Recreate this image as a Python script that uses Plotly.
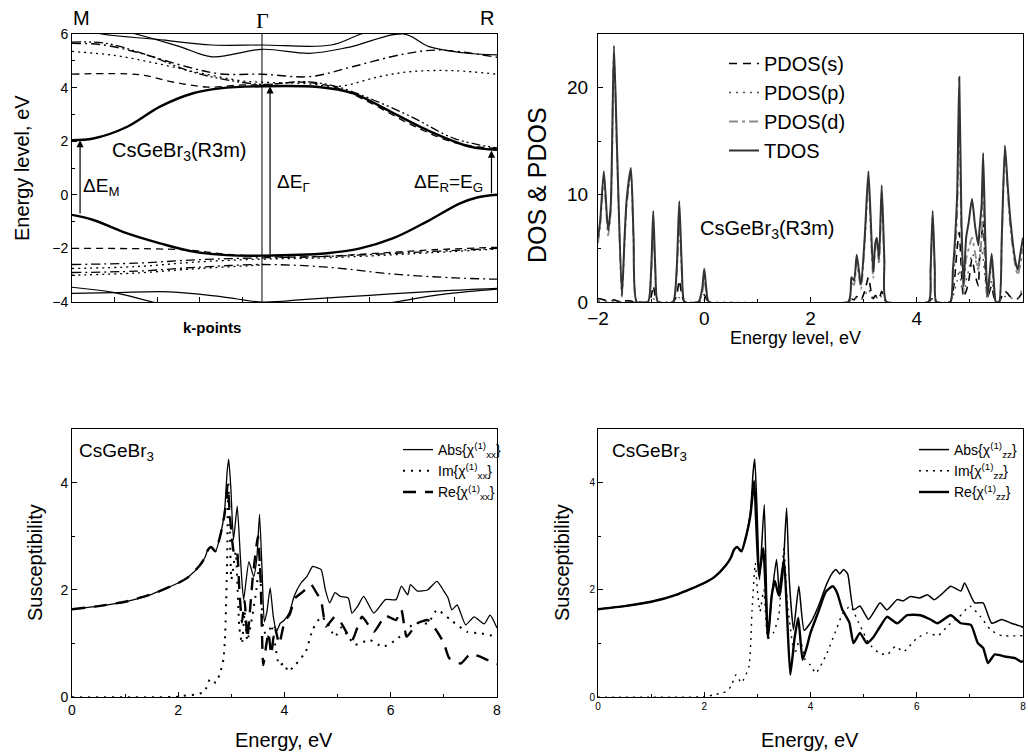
import plotly.graph_objects as go

# ---------------- Band structure (k as fraction of path M-Gamma-R) ----------------
k_gamma = 0.447
k_cb = [0, 0.05, 0.13, 0.207, 0.285, 0.348, 0.447, 0.58, 0.66, 0.756, 0.835, 0.936, 1.0]
e_cb = [2.04, 2.1, 2.54, 3.29, 3.79, 3.97, 4.05, 4.02, 3.79, 3.05, 2.42, 1.8, 1.68]
k_vb = [0, 0.05, 0.13, 0.207, 0.285, 0.364, 0.447, 0.6, 0.678, 0.756, 0.835, 0.913, 0.953, 1.0]
e_vb = [-0.75, -0.94, -1.44, -1.81, -2.12, -2.25, -2.27, -2.18, -2.0, -1.62, -1.0, -0.32, -0.1, 0.0]

k_u1 = [0.0, 0.07, 0.2, 0.33, 0.447, 0.61, 0.68, 0.75]
e_u1 = [6.3, 6.0, 5.8, 5.59, 5.59, 5.59, 6.0, 6.3]
k_u2 = [0.1, 0.15, 0.25, 0.33, 0.447, 0.56, 0.65, 0.78, 0.84, 0.92, 1.0]
e_u2 = [6.2, 6.0, 5.55, 5.15, 5.43, 5.28, 5.5, 6.0, 5.53, 5.3, 5.22]
k_u3 = [0, 0.07, 0.15, 0.27, 0.35, 0.447, 0.56, 0.66, 0.78, 0.86, 1.0]
e_u3 = [5.65, 5.6, 5.33, 4.78, 4.51, 4.5, 4.41, 4.78, 5.25, 5.4, 5.13]
k_u4 = [0, 0.1, 0.2, 0.3, 0.4, 0.447, 0.55, 0.63, 0.72, 0.8, 0.9, 1.0]
e_u4 = [5.35, 5.2, 4.9, 4.55, 4.25, 4.2, 4.15, 4.05, 4.4, 4.6, 4.63, 4.5]
k_u5 = [0, 0.16, 0.24, 0.32, 0.4, 0.447, 0.55, 0.63, 0.7, 0.8, 0.9, 1.0]
e_u5 = [4.5, 4.48, 4.2, 4.02, 4.1, 4.1, 4.2, 3.95, 3.45, 2.6, 1.95, 1.72]
k_u6 = [0, 0.08, 0.18, 0.28, 0.36, 0.447, 0.55, 0.62, 0.7, 0.8, 0.9, 1.0]
e_u6 = [5.7, 5.65, 5.2, 4.6, 4.3, 4.12, 4.22, 4.05, 3.6, 2.9, 2.1, 1.75]

k_l1 = [0, 0.2, 0.29, 0.35, 0.447, 0.55, 0.65, 0.75, 0.85, 1.0]
e_l1 = [-2.0, -2.02, -2.08, -2.2, -2.3, -2.32, -2.25, -2.15, -2.05, -1.96]
k_l2 = [0, 0.15, 0.3, 0.447, 0.6, 0.8, 1.0]
e_l2 = [-2.6, -2.55, -2.42, -2.35, -2.3, -2.15, -2.0]
k_l3 = [0, 0.15, 0.3, 0.447, 0.6, 0.8, 1.0]
e_l3 = [-2.75, -2.68, -2.5, -2.4, -2.35, -2.2, -2.02]
k_l4 = [0, 0.15, 0.3, 0.447, 0.6, 0.75, 0.9, 1.0]
e_l4 = [-2.9, -2.85, -2.7, -2.6, -2.7, -2.95, -3.1, -3.15]
k_l5 = [0, 0.15, 0.3, 0.447]
e_l5 = [-3.0, -2.92, -2.75, -2.62]
k_s1 = [0, 0.1, 0.19, 0.25]
e_s1 = [-3.45, -3.65, -4.0, -4.2]
k_s2 = [0, 0.1, 0.23, 0.35, 0.447, 0.55, 0.7, 0.85, 1.0]
e_s2 = [-3.68, -3.65, -3.62, -3.8, -4.0, -3.9, -3.75, -3.6, -3.49]
k_s3 = [0.65, 0.76, 0.88, 1.0]
e_s3 = [-4.3, -4.0, -3.7, -3.52]

# ---------------- DOS ----------------
x_dos = [-2.00, -1.96, -1.89, -1.81, -1.76, -1.70, -1.64, -1.55, -1.50, -1.46, -1.38, -1.33, -1.27,
         -1.06, -1.00, -0.96, -0.92, -0.87,
         -0.59, -0.52, -0.47, -0.42, -0.37,
         -0.11, -0.04, 0.00, 0.04, 0.09,
         2.71, 2.77, 2.82, 2.87, 2.95, 3.02, 3.09, 3.14, 3.18, 3.22, 3.25, 3.29, 3.34, 3.39, 3.43,
         4.22, 4.26, 4.30, 4.34, 4.37,
         4.63, 4.68, 4.71, 4.76, 4.80, 4.84, 4.88, 4.93, 4.98, 5.04, 5.10, 5.16, 5.18, 5.22, 5.25,
         5.29, 5.33, 5.37, 5.41, 5.45, 5.49,
         5.55, 5.60, 5.66, 5.71, 5.76, 5.85, 5.90, 5.95, 6.00]
tdos = [6.0, 7.5, 12.2, 6.7, 9.0, 23.9, 14.0, 0.6, 6.0, 9.6, 12.5, 6.0, 0.0,
        0.0, 3.0, 8.5, 3.0, 0.0,
        0.0, 3.0, 9.4, 3.0, 0.0,
        0.0, 1.2, 3.1, 1.2, 0.0,
        0.0, 2.3, 2.0, 4.4, 1.6, 6.0, 12.2, 7.0, 2.8, 5.5, 6.0, 4.0, 10.9, 4.0, 0.0,
        0.0, 3.0, 8.5, 3.0, 0.0,
        0.0, 3.0, 5.0, 10.0, 21.0, 8.0, 1.5, 6.0, 7.5, 9.6, 7.0, 5.3, 6.7, 9.0, 13.9,
        6.0, 0.6, 2.5, 4.5, 2.0, 0.0,
        0.0, 6.0, 14.6, 11.0, 7.8, 4.0, 3.0, 4.5, 6.0]
pdos_d = [5.5, 7.0, 11.5, 6.2, 8.5, 23.0, 13.5, 0.5, 5.5, 9.0, 12.0, 5.5, 0.0,
          0.0, 2.5, 7.0, 2.5, 0.0,
          0.0, 2.5, 7.5, 2.5, 0.0,
          0.0, 0.8, 2.3, 0.8, 0.0,
          0.0, 1.8, 1.6, 3.7, 1.2, 5.5, 11.0, 6.0, 2.2, 5.0, 5.5, 3.5, 10.0, 3.5, 0.0,
          0.0, 2.8, 8.0, 2.8, 0.0,
          0.0, 2.0, 3.5, 8.0, 18.0, 6.0, 1.0, 4.0, 5.0, 6.0, 4.5, 3.0, 4.0, 6.0, 10.5,
          4.0, 0.4, 2.0, 3.5, 1.5, 0.0,
          0.0, 5.5, 14.0, 10.5, 7.0, 3.5, 2.5, 3.5, 5.0]
pdos_s = [0.3, 0.3, 0.2, 0.1, 0.1, 0.2, 0.1, 0.0, 0.1, 0.1, 0.1, 0.0, 0.0,
          0.0, 0.5, 1.5, 0.5, 0.0,
          0.0, 0.6, 2.0, 0.6, 0.0,
          0.0, 0.3, 0.7, 0.3, 0.0,
          0.0, 0.3, 0.2, 0.5, 0.2, 1.0, 2.3, 1.0, 0.3, 0.6, 0.5, 0.3, 1.0, 0.4, 0.0,
          0.0, 0.2, 0.5, 0.2, 0.0,
          0.0, 1.0, 2.0, 5.0, 6.5, 3.0, 0.5, 1.0, 2.0, 4.0, 2.5, 1.5, 4.0, 6.0, 7.5,
          3.0, 0.3, 1.0, 1.5, 0.5, 0.0,
          0.0, 0.5, 1.0, 0.8, 0.5, 0.3, 0.3, 0.6, 1.0]
pdos_p = [0.1, 0.1, 0.1, 0.1, 0.1, 0.1, 0.1, 0.0, 0.0, 0.0, 0.0, 0.0, 0.0,
          0.0, 0.1, 0.3, 0.1, 0.0,
          0.0, 0.1, 0.4, 0.1, 0.0,
          0.0, 0.0, 0.2, 0.0, 0.0,
          0.0, 0.2, 0.2, 0.4, 0.2, 0.6, 1.2, 0.6, 0.2, 0.4, 0.4, 0.2, 0.6, 0.2, 0.0,
          0.0, 0.1, 0.3, 0.1, 0.0,
          0.0, 0.5, 1.0, 2.0, 3.0, 1.5, 0.5, 2.0, 3.0, 4.5, 4.0, 3.0, 3.5, 5.0, 4.0,
          2.0, 0.3, 1.0, 2.0, 0.8, 0.0,
          0.0, 0.3, 0.5, 0.5, 0.4, 0.3, 0.3, 0.8, 1.5]

# ---------------- Susceptibility xx ----------------
e_abs_xx = [0, 0.5, 1.0, 1.5, 2.0, 2.2, 2.4, 2.5, 2.56, 2.62, 2.7, 2.8, 2.87, 2.92, 2.95, 2.99, 3.04,
            3.11, 3.17, 3.23, 3.33, 3.42, 3.48, 3.53, 3.58, 3.62, 3.67, 3.73, 3.79, 3.85, 3.92, 3.99,
            4.1, 4.18, 4.31, 4.42, 4.53, 4.6, 4.69, 4.77, 4.85, 4.95, 5.05, 5.2, 5.27, 5.38, 5.49,
            5.68, 5.9, 6.1, 6.2, 6.32, 6.37, 6.5, 6.69, 6.87, 7.0, 7.08, 7.15, 7.25, 7.41, 7.57,
            7.76, 7.87, 8.0]
abs_xx = [1.64, 1.7, 1.78, 1.92, 2.13, 2.25, 2.45, 2.6, 2.75, 2.8, 2.72, 3.05, 3.45, 4.2, 4.44, 3.9, 2.94,
          3.56, 2.6, 1.82, 2.53, 2.25, 2.6, 3.41, 2.3, 1.41, 1.6, 2.04, 1.5, 1.23, 1.38, 1.43,
          1.6, 1.88, 2.13, 2.25, 2.44, 2.42, 2.38, 2.0, 1.76, 1.95, 1.88, 1.85, 1.57, 1.7, 1.88,
          1.57, 1.82, 1.82, 2.07, 1.91, 2.1, 1.98, 2.0, 2.16, 1.98, 1.85, 1.63, 1.72, 1.35, 1.5,
          1.37, 1.53, 1.29]
e_re_xx = [0, 0.5, 1.0, 1.5, 2.0, 2.2, 2.4, 2.5, 2.56, 2.62, 2.7, 2.8, 2.87, 2.93, 2.98, 3.05, 3.1,
           3.15, 3.2, 3.25, 3.3, 3.4, 3.5, 3.55, 3.6, 3.66, 3.7, 3.75, 3.82, 3.9, 4.0, 4.1, 4.2,
           4.35, 4.5, 4.6, 4.69, 4.78, 4.95, 5.07, 5.27, 5.46, 5.68, 5.9, 6.1, 6.2, 6.3, 6.5, 6.7,
           6.85, 7.0, 7.1, 7.32, 7.5, 7.7, 7.9, 8.0]
re_xx = [1.64, 1.7, 1.78, 1.92, 2.13, 2.25, 2.45, 2.6, 2.75, 2.8, 2.72, 3.05, 3.4, 3.94, 3.3, 2.7, 2.75,
         2.0, 1.4, 1.8, 1.1, 2.2, 3.0, 2.2, 0.6, 1.0, 1.2, 0.8, 1.3, 1.0, 1.4, 1.55, 1.85,
         1.97, 2.1, 1.95, 1.8, 1.32, 1.5, 1.38, 1.06, 1.5, 1.22, 1.52, 1.44, 1.63, 1.13, 1.38, 1.44,
         1.26, 1.01, 0.73, 0.63, 0.81, 0.75, 0.66, 0.62]
e_im_xx = [0, 0.5, 1.0, 1.5, 2.0, 2.1, 2.3, 2.49, 2.6, 2.71, 2.8, 2.85, 2.88, 2.92, 2.94, 2.97, 3.0,
           3.08, 3.15, 3.2, 3.25, 3.3, 3.4, 3.47, 3.53, 3.6, 3.68, 3.75, 3.82, 3.9, 3.99, 4.07, 4.2,
           4.4, 4.53, 4.69, 4.8, 4.95, 5.07, 5.15, 5.33, 5.6, 5.85, 6.1, 6.3, 6.44, 6.7, 6.87, 7.13,
           7.44, 7.7, 8.0]
im_xx = [0.0, 0.0, 0.0, 0.0, 0.01, 0.03, 0.05, 0.1, 0.34, 0.27, 0.5, 0.7, 1.1, 2.5, 4.03, 3.2, 2.2,
         2.7, 1.3, 1.0, 1.6, 1.05, 1.55, 2.0, 2.5, 1.3, 1.1, 1.35, 1.0, 0.6, 0.63, 0.48, 0.6,
         0.85, 1.26, 1.5, 1.4, 1.13, 1.3, 1.2, 0.98, 1.07, 0.94, 1.07, 1.25, 1.38, 1.38, 1.63, 1.44,
         1.22, 1.19, 1.13]

# ---------------- Susceptibility zz ----------------
e_abs_zz = [0, 0.5, 1.0, 1.5, 2.0, 2.2, 2.4, 2.5, 2.56, 2.62, 2.7, 2.8, 2.87, 2.92, 2.95, 2.99, 3.04,
            3.08, 3.13, 3.2, 3.27, 3.36, 3.42, 3.48, 3.55, 3.6, 3.68, 3.78, 3.88, 4.02, 4.15, 4.3,
            4.4, 4.48, 4.55, 4.62, 4.7, 4.81, 4.93, 5.09, 5.2, 5.31, 5.44, 5.63, 5.75, 5.88, 6.05,
            6.2, 6.33, 6.5, 6.64, 6.83, 6.9, 7.09, 7.25, 7.41, 7.6, 7.78, 7.97, 8.0]
abs_zz = [1.64, 1.7, 1.78, 1.92, 2.13, 2.25, 2.45, 2.6, 2.75, 2.8, 2.72, 3.05, 3.45, 4.2, 4.44, 3.6, 2.19,
          2.8, 3.59, 1.13, 1.88, 2.57, 1.88, 2.3, 3.53, 2.2, 1.26, 2.07, 1.25, 1.42, 1.7, 2.1,
          2.3, 2.38, 2.3, 2.38, 2.3, 1.63, 1.7, 1.45, 1.6, 1.76, 1.63, 1.82, 1.8, 1.88, 1.85,
          1.91, 1.82, 1.95, 2.07, 1.98, 2.13, 1.76, 1.76, 1.38, 1.45, 1.38, 1.32, 1.3]
e_re_zz = [0, 0.5, 1.0, 1.5, 2.0, 2.2, 2.4, 2.5, 2.56, 2.62, 2.7, 2.8, 2.87, 2.94, 2.98, 3.03, 3.11,
           3.2, 3.27, 3.33, 3.4, 3.5, 3.56, 3.62, 3.7, 3.77, 3.85, 3.92, 4.0, 4.15, 4.29, 4.42, 4.5,
           4.6, 4.73, 4.81, 4.93, 5.06, 5.19, 5.3, 5.44, 5.63, 5.82, 6.07, 6.26, 6.39, 6.64, 6.83,
           7.02, 7.15, 7.25, 7.34, 7.47, 7.66, 7.85, 7.97, 8.0]
re_zz = [1.64, 1.7, 1.78, 1.92, 2.13, 2.25, 2.45, 2.6, 2.75, 2.8, 2.72, 3.05, 3.4, 4.03, 3.2, 2.25, 2.78,
         1.1, 1.9, 2.17, 1.9, 2.57, 1.5, 0.42, 1.1, 1.48, 0.7, 0.9, 1.2, 1.6, 1.97, 2.07, 1.95,
         1.63, 1.4, 1.01, 1.2, 1.01, 1.13, 1.3, 1.5, 1.38, 1.53, 1.53, 1.45, 1.38, 1.53, 1.38,
         1.35, 1.01, 0.92, 0.64, 0.8, 0.76, 0.73, 0.66, 0.68]
e_im_zz = [0, 0.5, 1.0, 1.5, 2.0, 2.2, 2.4, 2.5, 2.6, 2.7, 2.84, 2.9, 2.96, 3.0, 3.05, 3.12, 3.2, 3.3,
           3.4, 3.5, 3.56, 3.62, 3.7, 3.8, 3.9, 4.0, 4.1, 4.3, 4.5, 4.6, 4.75, 4.9, 5.0, 5.1, 5.3,
           5.45, 5.6, 5.75, 6.0, 6.2, 6.4, 6.6, 6.8, 7.0, 7.2, 7.4, 7.6, 8.0]
im_zz = [0.0, 0.0, 0.0, 0.0, 0.01, 0.05, 0.1, 0.2, 0.42, 0.27, 0.57, 1.63, 2.5, 2.0, 1.6, 2.0, 1.1, 1.2,
         1.5, 2.78, 1.8, 1.3, 0.8, 1.1, 0.7, 0.6, 0.45, 0.8, 1.3, 1.55, 1.7, 1.4, 1.2, 1.0, 0.82,
         0.8, 0.95, 0.85, 1.1, 1.2, 1.15, 1.35, 1.5, 1.7, 1.5, 1.25, 1.15, 1.15]

FONT = "Liberation Sans, Arial, sans-serif"
W, H = 1028, 755


def px(x):
    return x / W


def py(y):
    return 1 - y / H


fig = go.Figure()

DASH = "7px,5px"
DOT = "2px,4px"
DASHDOT = "9px,4px,2px,4px"
DASHDOTDOT = "9px,3px,2px,3px,2px,3px"

bands = [
    (k_u1, e_u1, 1.2, "solid"), (k_u2, e_u2, 1.2, "solid"),
    (k_u3, e_u3, 1.4, DASHDOT), (k_u4, e_u4, 1.3, DOT), (k_u5, e_u5, 1.3, DASH), (k_u6, e_u6, 1.3, DASHDOTDOT),
    (k_l1, e_l1, 1.3, DASH), (k_l2, e_l2, 1.3, DASHDOT), (k_l3, e_l3, 1.3, DOT), (k_l4, e_l4, 1.3, DASHDOT),
    (k_l5, e_l5, 1.3, DOT),
    (k_s1, e_s1, 1.2, "solid"), (k_s2, e_s2, 1.2, "solid"), (k_s3, e_s3, 1.2, "solid"),
    (k_cb, e_cb, 2.4, "solid"), (k_vb, e_vb, 2.4, "solid"),
]
for kk, ee, lw, dsh in bands:
    fig.add_trace(go.Scatter(x=kk, y=ee, mode="lines", line=dict(color="black", width=lw, dash=dsh, shape="spline", smoothing=1.0),
                             xaxis="x", yaxis="y", showlegend=False, hoverinfo="skip"))

# DOS traces
fig.add_trace(go.Scatter(x=x_dos, y=pdos_s, name="PDOS(s)", mode="lines", legend="legend",
                         line=dict(color="black", width=1.6, dash="8px,6px", shape="spline", smoothing=0.6), xaxis="x2", yaxis="y2"))
fig.add_trace(go.Scatter(x=x_dos, y=pdos_p, name="PDOS(p)", mode="lines", legend="legend",
                         line=dict(color="#555555", width=1.4, dash="2px,5px", shape="spline", smoothing=0.6), xaxis="x2", yaxis="y2"))
fig.add_trace(go.Scatter(x=x_dos, y=pdos_d, name="PDOS(d)", mode="lines", legend="legend",
                         line=dict(color="#8a8a8a", width=1.8, dash="9px,4px,3px,4px", shape="spline", smoothing=0.6), xaxis="x2", yaxis="y2"))
fig.add_trace(go.Scatter(x=x_dos, y=tdos, name="TDOS", mode="lines", legend="legend",
                         line=dict(color="#333333", width=2.0, shape="spline", smoothing=0.6), xaxis="x2", yaxis="y2"))

# xx susceptibility
fig.add_trace(go.Scatter(x=e_abs_xx, y=abs_xx, name="Abs{χ<sup>(1)</sup><sub>xx</sub>}", mode="lines", legend="legend2",
                         line=dict(color="black", width=1.3, shape="spline", smoothing=0.5), xaxis="x3", yaxis="y3"))
fig.add_trace(go.Scatter(x=e_im_xx, y=im_xx, name="Im{χ<sup>(1)</sup><sub>xx</sub>}", mode="lines", legend="legend2",
                         line=dict(color="black", width=2.0, dash="2px,6px", shape="spline", smoothing=0.5), xaxis="x3", yaxis="y3"))
fig.add_trace(go.Scatter(x=e_re_xx, y=re_xx, name="Re{χ<sup>(1)</sup><sub>xx</sub>}", mode="lines", legend="legend2",
                         line=dict(color="black", width=2.4, dash="13px,9px", shape="spline", smoothing=0.5), xaxis="x3", yaxis="y3"))

# zz susceptibility
fig.add_trace(go.Scatter(x=e_abs_zz, y=abs_zz, name="Abs{χ<sup>(1)</sup><sub>zz</sub>}", mode="lines", legend="legend3",
                         line=dict(color="black", width=1.5, shape="spline", smoothing=0.5), xaxis="x4", yaxis="y4"))
fig.add_trace(go.Scatter(x=e_im_zz, y=im_zz, name="Im{χ<sup>(1)</sup><sub>zz</sub>}", mode="lines", legend="legend3",
                         line=dict(color="black", width=1.4, dash="2px,5px", shape="spline", smoothing=0.5), xaxis="x4", yaxis="y4"))
fig.add_trace(go.Scatter(x=e_re_zz, y=re_zz, name="Re{χ<sup>(1)</sup><sub>zz</sub>}", mode="lines", legend="legend3",
                         line=dict(color="black", width=2.4, shape="spline", smoothing=0.5), xaxis="x4", yaxis="y4"))

ax_common = dict(showline=True, linecolor="black", linewidth=1, mirror=True, ticks="inside",
                 showgrid=False, zeroline=False, tickcolor="black", ticklen=5, automargin=False)

dom_x_left = [px(72), px(497)]
dom_x_right = [px(598), px(1023)]
dom_y_top = [py(302), py(34)]
dom_y_bot = [py(697.3), py(429)]

fig.update_layout(
    width=W, height=H, margin=dict(l=0, r=0, t=0, b=0, autoexpand=False),
    paper_bgcolor="white", plot_bgcolor="white",
    font=dict(family=FONT, color="black"),
    xaxis=dict(domain=dom_x_left, range=[0, 1], tickvals=[0.1, 0.2, 0.3, 0.4, 0.6, 0.7, 0.8, 0.9],
               showticklabels=False, anchor="y", **ax_common),
    yaxis=dict(domain=dom_y_top, range=[-4, 6], tickvals=[-4, -2, 0, 2, 4, 6], anchor="x",
               tickfont=dict(size=14), minor=dict(ticks="inside", ticklen=3, dtick=1, tickcolor="black"), **ax_common),
    xaxis2=dict(domain=dom_x_right, range=[-2, 6], dtick=2, anchor="y2", tickfont=dict(size=19), ticklabelstandoff=-1,
                minor=dict(ticks="inside", ticklen=3, dtick=1, tickcolor="black"), **ax_common),
    yaxis2=dict(domain=dom_y_top, range=[0, 25], tickvals=[0, 10, 20], anchor="x2", tickfont=dict(size=19),
                ticklabelstandoff=5,
                minor=dict(ticks="inside", ticklen=3, dtick=5, tickcolor="black"), **ax_common),
    xaxis3=dict(domain=dom_x_left, range=[0, 8], dtick=2, anchor="y3", tickfont=dict(size=14),
                minor=dict(ticks="inside", ticklen=3, dtick=1, tickcolor="black"), **ax_common),
    yaxis3=dict(domain=dom_y_bot, range=[0, 5], tickvals=[0, 2, 4], anchor="x3", tickfont=dict(size=14),
                minor=dict(ticks="inside", ticklen=3, dtick=1, tickcolor="black"), **ax_common),
    xaxis4=dict(domain=dom_x_right, range=[0, 8], dtick=2, anchor="y4", tickfont=dict(size=10),
                minor=dict(ticks="inside", ticklen=3, dtick=1, tickcolor="black"), **ax_common),
    yaxis4=dict(domain=dom_y_bot, range=[0, 5], tickvals=[0, 2, 4], anchor="x4", tickfont=dict(size=10),
                minor=dict(ticks="inside", ticklen=3, dtick=1, tickcolor="black"), **ax_common),
    legend=dict(x=px(724), y=py(44), xanchor="left", yanchor="top", font=dict(size=20, family=FONT),
                bgcolor="rgba(0,0,0,0)", tracegroupgap=0),
    legend2=dict(x=px(398), y=py(434), xanchor="left", yanchor="top", font=dict(size=14, family=FONT),
                 bgcolor="rgba(0,0,0,0)", tracegroupgap=0),
    legend3=dict(x=px(914), y=py(434), xanchor="left", yanchor="top", font=dict(size=14, family=FONT),
                 bgcolor="rgba(0,0,0,0)", tracegroupgap=0),
)

# Gamma vertical line
fig.add_shape(type="line", xref="x", yref="y", x0=k_gamma, x1=k_gamma, y0=-4, y1=6, line=dict(color="black", width=1))

# arrows in band panel
arrows = [(0.019, e_vb[0], e_cb[0]), (0.466, e_vb[6], e_cb[6]), (0.987, e_vb[-1], e_cb[-1] - 0.03)]
for xa, y0, y1 in arrows:
    fig.add_annotation(x=xa, y=y1, ax=xa, ay=y0, xref="x", yref="y", axref="x", ayref="y",
                       showarrow=True, arrowhead=2, arrowsize=1.2, arrowwidth=1.2, arrowcolor="black", text="")

ann = []
ann.append(dict(x=0.252, y=1.6, xref="x", yref="y", text="CsGeBr<sub>3</sub>(R3m)", font=dict(size=20)))
ann.append(dict(x=0.068, y=0.3, xref="x", yref="y", text="ΔE<sub>M</sub>", font=dict(size=19)))
ann.append(dict(x=0.522, y=0.45, xref="x", yref="y", text="ΔE<sub>Γ</sub>", font=dict(size=19)))
ann.append(dict(x=0.887, y=0.45, xref="x", yref="y", text="ΔE<sub>R</sub>=E<sub>G</sub>", font=dict(size=19)))
ann.append(dict(x=px(81), y=py(18), xref="paper", yref="paper", text="M", font=dict(size=20)))
ann.append(dict(x=px(262), y=py(21), xref="paper", yref="paper", text="Γ", font=dict(size=22, family="Liberation Serif, Times New Roman, serif")))
ann.append(dict(x=px(487), y=py(18), xref="paper", yref="paper", text="R", font=dict(size=20)))
ann.append(dict(x=px(212), y=py(327), xref="paper", yref="paper", text="<b>k-points</b>", font=dict(size=15)))
ann.append(dict(x=px(22), y=py(168), xref="paper", yref="paper", text="Energy level, eV", textangle=-90, font=dict(size=20)))
# DOS panel
ann.append(dict(x=1.18, y=6.75, xref="x2", yref="y2", text="CsGeBr<sub>3</sub>(R3m)", font=dict(size=20)))
ann.append(dict(x=px(537), y=py(185), xref="paper", yref="paper", text="DOS & PDOS", textangle=-90, font=dict(size=25)))
ann.append(dict(x=px(795), y=py(338), xref="paper", yref="paper", text="Energy level, eV", font=dict(size=18)))
# susceptibility panels
ann.append(dict(x=px(77), y=py(452), xref="paper", yref="paper", xanchor="left", text="CsGeBr<sub>3</sub>", font=dict(size=19)))
ann.append(dict(x=px(610), y=py(452), xref="paper", yref="paper", xanchor="left", text="CsGeBr<sub>3</sub>", font=dict(size=19)))
ann.append(dict(x=px(35), y=py(563), xref="paper", yref="paper", text="Susceptibility", textangle=-90, font=dict(size=20)))
ann.append(dict(x=px(562), y=py(563), xref="paper", yref="paper", text="Susceptibility", textangle=-90, font=dict(size=20)))
ann.append(dict(x=px(284), y=py(740), xref="paper", yref="paper", text="Energy, eV", font=dict(size=20)))
ann.append(dict(x=px(810), y=py(740), xref="paper", yref="paper", text="Energy, eV", font=dict(size=20)))
for a in ann:
    a.setdefault("showarrow", False)
    a.setdefault("xanchor", "center")
    a.setdefault("yanchor", "middle")
    fig.add_annotation(**a)

fig.write_html("out.html", config={"displayModeBar": False},
               post_script="document.body.style.margin='0px';document.body.style.overflow='hidden';")
